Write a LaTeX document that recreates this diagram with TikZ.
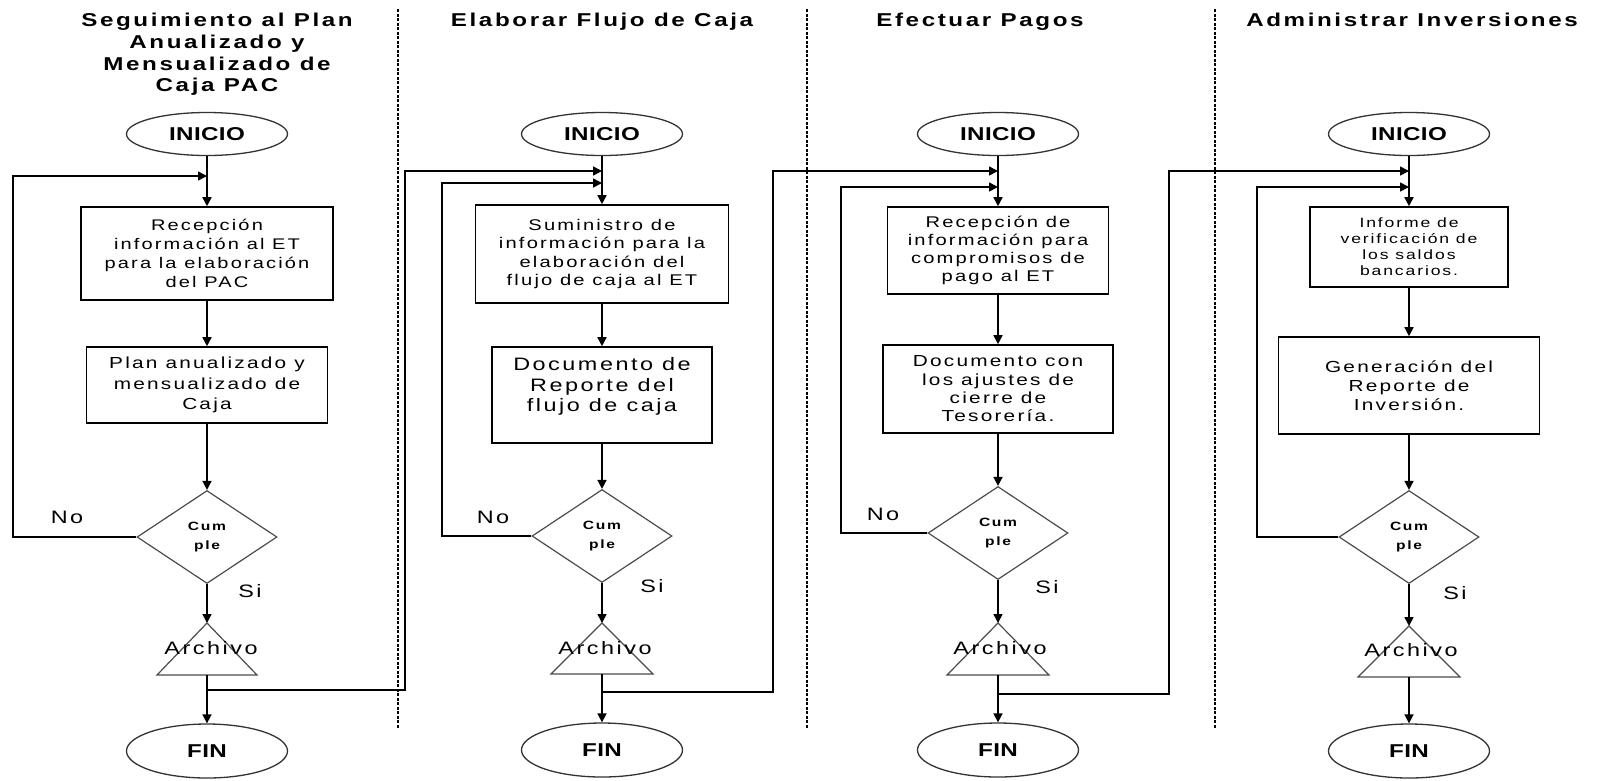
\documentclass[tikz,border=0pt]{standalone}
\usepackage{fontspec}
\setmainfont{Liberation Sans}
\newfontfamily\fa{Liberation Sans}[FakeStretch=1.3,LetterSpace=14]
\newfontfamily\fc{Liberation Sans}[FakeStretch=1.3,LetterSpace=2]
\usetikzlibrary{shapes.geometric,arrows.meta}
\begin{document}
\begin{tikzpicture}[x=1pt,y=-1pt,
 ln/.style={line width=1.6pt, black},
 arr/.style={ln,-{Triangle[length=9pt,width=9pt]}},
 term/.style={ellipse, draw=black!80, line width=1.3pt, inner sep=0pt, minimum width=161pt, minimum height=43pt, font=\fc\bfseries\fontsize{18.6}{22}\selectfont},
 fin/.style={term, minimum height=54pt},
 proc/.style={rectangle, draw=black, line width=1.6pt, inner sep=0pt, align=center},
 dec/.style={diamond, draw=black!70, line width=1.2pt, inner sep=0pt, align=center, minimum width=140pt, minimum height=93pt, font=\fa\bfseries\fontsize{12}{18.7}\selectfont},
 lbl/.style={font=\fa\fontsize{18}{21}\selectfont, inner sep=0pt},
 ttl/.style={font=\fa\bfseries\fontsize{18.6}{21.7}\selectfont, align=center, inner sep=0pt, anchor=north},
 sepline/.style={line width=1.8pt, dash pattern=on 3pt off 1.5pt},
 tri/.style={draw=black!70, line width=1.2pt}
]
\useasboundingbox (0,0) rectangle (1600,780);
\fill[white] (0,0) rectangle (1600,780);

% separators
\draw[sepline] (398,9) -- (398,728);
\draw[sepline] (807,9) -- (807,728);
\draw[sepline] (1215,9) -- (1215,728);

% titles
\node[ttl] (h1) at (217,13) {Seguimiento al Plan\\Anualizado y\\Mensualizado de\\Caja PAC};
\node[ttl] (h2) at (602,13) {Elaborar Flujo de Caja};
\node[ttl] (h3) at (980,13) {Efectuar Pagos};
\node[ttl] (h4) at (1412,13) {Administrar Inversiones};

% ---------- column 1 ----------
\node[term] (i1) at (207,134) {INICIO};
\node[proc, minimum width=252pt, minimum height=93pt, font=\fa\fontsize{15.4}{19}\selectfont] (p1a) at (207,253.5) {Recepción\\información al ET\\para la elaboración\\del PAC};
\node[proc, minimum width=241pt, minimum height=76pt, font=\fa\fontsize{16}{20.5}\selectfont] (p1b) at (207,385) {Plan anualizado y\\mensualizado de\\Caja};
\node[dec] (d1) at (207,537) {Cum\\ple};
\coordinate (t1) at (207,623);
\coordinate (b1) at (207,675);
\draw[tri] (t1) -- ++(50,52) -- ++(-100,0) -- cycle;
\node[lbl] (a1) at (211,648) {Archivo};
\node[fin] (e1) at (207,751) {FIN};
\node[lbl] (n1) at (67,517) {No};
\node[lbl] (s1) at (250,591) {Si};
\coordinate (m1) at (207,176);
\coordinate (f1) at (13,176);
\coordinate (j1) at (207,690);

\draw[arr] (i1) -- (p1a);
\draw[arr] (p1a) -- (p1b);
\draw[arr] (p1b) -- (d1);
\draw[arr] (d1) -- (t1);
\draw[arr] (b1) -- (e1);
\draw[arr] (d1.west) -| (f1) -- (m1);

% ---------- column 2 ----------
\node[term] (i2) at (602,134) {INICIO};
\node[proc, minimum width=253pt, minimum height=98pt, font=\fa\fontsize{15.5}{18.3}\selectfont] (p2a) at (602,254) {Suministro de\\información para la\\elaboración del\\flujo de caja al ET};
\node[proc, minimum width=220pt, minimum height=96pt, font=\fa\fontsize{18}{20.7}\selectfont] (p2b) at (602,395) {Documento de\\Reporte del\\flujo de caja\\ \mbox{}};
\node[dec] (d2) at (602,536) {Cum\\ple};
\coordinate (t2) at (602,623);
\coordinate (b2) at (602,674);
\draw[tri] (t2) -- ++(51,51) -- ++(-102,0) -- cycle;
\node[lbl] (a2) at (605,648) {Archivo};
\node[fin] (e2) at (602,750) {FIN};
\node[lbl] (n2) at (493,517) {No};
\node[lbl] (s2) at (652,586) {Si};
\coordinate (m2a) at (602,171);
\coordinate (m2b) at (602,183);
\coordinate (f2) at (442,183);
\coordinate (v1) at (405,171);
\coordinate (j2) at (602,692);

\draw[arr] (i2) -- (p2a);
\draw[arr] (p2a) -- (p2b);
\draw[arr] (p2b) -- (d2);
\draw[arr] (d2) -- (t2);
\draw[arr] (b2) -- (e2);
\draw[arr] (d2.west) -| (f2) -- (m2b);
\draw[arr] (j1) -| (v1) -- (m2a);

% ---------- column 3 ----------
\node[term] (i3) at (998,134) {INICIO};
\node[proc, minimum width=221pt, minimum height=87pt, font=\fa\fontsize{15.5}{18}\selectfont] (p3a) at (998,250.5) {Recepción de\\información para\\compromisos de\\pago al ET};
\node[proc, minimum width=230pt, minimum height=88pt, font=\fa\fontsize{16}{18.3}\selectfont] (p3b) at (998,389) {Documento con\\los ajustes de\\cierre de\\Tesorería.};
\node[dec] (d3) at (998,533) {Cum\\ple};
\coordinate (t3) at (998,623);
\coordinate (b3) at (998,675);
\draw[tri] (t3) -- ++(51,52) -- ++(-102,0) -- cycle;
\node[lbl] (a3) at (1000,648) {Archivo};
\node[fin] (e3) at (998,750) {FIN};
\node[lbl] (n3) at (883,514) {No};
\node[lbl] (s3) at (1047,587) {Si};
\coordinate (m3a) at (998,171);
\coordinate (m3b) at (998,187);
\coordinate (f3) at (841,187);
\coordinate (v2) at (773,171);
\coordinate (j3) at (998,694);

\draw[arr] (i3) -- (p3a);
\draw[arr] (p3a) -- (p3b);
\draw[arr] (p3b) -- (d3);
\draw[arr] (d3) -- (t3);
\draw[arr] (b3) -- (e3);
\draw[arr] (d3.west) -| (f3) -- (m3b);
\draw[arr] (j2) -| (v2) -- (m3a);

% ---------- column 4 ----------
\node[term] (i4) at (1409,134) {INICIO};
\node[proc, minimum width=198pt, minimum height=80pt, font=\fa\fontsize{13.5}{16}\selectfont] (p4a) at (1409,247) {Informe de\\verificación de\\los saldos\\bancarios.};
\node[proc, minimum width=261pt, minimum height=97pt, font=\fa\fontsize{16}{19}\selectfont] (p4b) at (1409,385.5) {Generación del\\Reporte de\\Inversión.};
\node[dec] (d4) at (1409,537) {Cum\\ple};
\coordinate (t4) at (1409,626);
\coordinate (b4) at (1409,677);
\draw[tri] (t4) -- ++(51,51) -- ++(-102,0) -- cycle;
\node[lbl] (a4) at (1411,650) {Archivo};
\node[fin] (e4) at (1409,751) {FIN};
\node[lbl] (s4) at (1455,593) {Si};
\coordinate (m4a) at (1409,171);
\coordinate (m4b) at (1409,187);
\coordinate (f4) at (1257,187);
\coordinate (v3) at (1169,171);

\draw[arr] (i4) -- (p4a);
\draw[arr] (p4a) -- (p4b);
\draw[arr] (p4b) -- (d4);
\draw[arr] (d4) -- (t4);
\draw[arr] (b4) -- (e4);
\draw[arr] (d4.west) -| (f4) -- (m4b);
\draw[arr] (j3) -| (v3) -- (m4a);
\end{tikzpicture}
\end{document}
